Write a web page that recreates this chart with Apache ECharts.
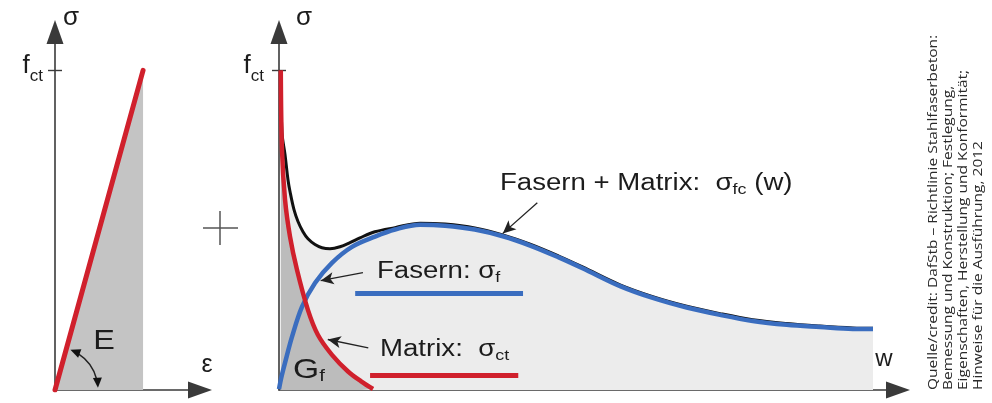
<!DOCTYPE html>
<html>
<head>
<meta charset="utf-8">
<script src="https://cdn.jsdelivr.net/npm/echarts@6/dist/echarts.min.js"></script>
<style>
  html, body { margin: 0; padding: 0; background: #fff; }
  #chart { width: 992px; height: 403px; }
</style>
</head>
<body>
<div id="chart"></div>
<script>
// stress normalised to f_ct (= 1), strain normalised to eps_ct, crack width w in arbitrary units
const elastic = [[0, 0], [0.99, 1.0]];

const matrix = [
  [0.3, 1.0], [0.5, 0.752], [1.01, 0.596], [1.85, 0.48], [3.02, 0.376],
  [4.87, 0.25], [6.55, 0.172], [8.9, 0.11], [11.6, 0.058], [13.8, 0.027], [15.8, 0.003]
];

const fibres = [
  [0, 0.003], [0.4, 0.04], [1.01, 0.085], [2.18, 0.166], [3.86, 0.26], [6.05, 0.335],
  [8.9, 0.398], [12.26, 0.448], [16.13, 0.48], [19.49, 0.502], [23.7, 0.517],
  [27.9, 0.514], [32.9, 0.502], [37.6, 0.481], [42.2, 0.452], [47, 0.415],
  [51, 0.381], [57.3, 0.325], [62.8, 0.288], [68.5, 0.258], [74.1, 0.235],
  [79.6, 0.216], [85.3, 0.204], [90.9, 0.197], [96.4, 0.191], [99.8, 0.191]
];

const total = [
  [0.3, 1.0], [0.5, 0.806], [1.01, 0.737], [1.51, 0.658], [1.85, 0.621],
  [2.52, 0.564], [3.19, 0.527], [4.03, 0.495], [4.87, 0.473], [6.05, 0.455],
  [7.22, 0.445], [8.57, 0.442], [10.25, 0.448], [11.93, 0.461], [13.6, 0.476],
  [16.1, 0.495], [19.49, 0.508], [23.7, 0.522], [27.9, 0.519], [32.9, 0.507],
  [37.6, 0.485], [42.2, 0.456], [47, 0.419], [51, 0.385], [57.3, 0.329],
  [62.8, 0.292], [68.5, 0.262], [74.1, 0.239], [79.6, 0.22], [85.3, 0.208],
  [90.9, 0.2], [96.4, 0.194], [99.8, 0.193]
];

const fctTick = [1];

const creditLines = [
  'Quelle/credit: DafStb \u2013 Richtlinie Stahlfaserbeton:',
  'Bemessung und Konstruktion; Festlegung,',
  'Eigenschaften, Herstellung und Konformit\u00e4t;',
  'Hinweise f\u00fcr die Ausf\u00fchrung, 2012'
];

const FONT = '"Liberation Sans", Arial, sans-serif';
const INK = '#1c1c1c';
const AXIS = '#3a3a3a';
const RED = '#d0202c';
const BLUE = '#3a6dbf';

const chart = echarts.init(document.getElementById('chart'), null, { renderer: 'canvas' });

function valueAxis(grid, max, extra) {
  return Object.assign({
    type: 'value', gridIndex: grid, min: 0, max: max,
    splitLine: { show: false },
    axisTick: { show: false },
    axisLabel: { show: false },
    axisLine: {
      show: true, onZero: false,
      symbol: ['none', 'triangle'], symbolSize: [17, 24],
      lineStyle: { color: AXIS, width: 1.6 }
    }
  }, extra);
}

function fctAxis(grid, margin) {
  return valueAxis(grid, 1.12, {
    name: 'σ', nameLocation: 'end', nameGap: 14,
    nameTextStyle: {
      fontFamily: FONT, fontSize: 26, color: INK, align: 'left', verticalAlign: 'middle',
      padding: [0, 0, 0, grid === 0 ? 8 : 17]
    },
    axisTick: { show: true, customValues: fctTick, length: 7, lineStyle: { color: AXIS, width: 1.4 } },
    axisLabel: {
      show: true, customValues: fctTick, margin: margin,
      formatter: () => '{a|f}{b|ct}',
      padding: [0, 0, 10, 0],
      rich: {
        a: { fontFamily: FONT, fontSize: 26, color: INK },
        b: { fontFamily: FONT, fontSize: 17, color: INK, padding: [22, 0, 0, 0] }
      }
    }
  });
}

function innerTickAxis(grid) {
  return valueAxis(grid, 1.12, {
    position: 'left',
    axisLine: { show: false },
    axisTick: { show: true, inside: true, customValues: fctTick, length: 7, lineStyle: { color: AXIS, width: 1.4 } }
  });
}

const arrowStyle = { color: '#222', width: 1.3, type: 'solid' };

function angleArc(params, api) {
  const o = api.coord([api.value(0), api.value(1)]);
  const r = 43;
  const a1 = -69 * Math.PI / 180;
  const a2 = -3 * Math.PI / 180;
  const L = 10, W = 4.5;
  function head(a, sign) {
    const tip = [o[0] + r * Math.cos(a), o[1] + r * Math.sin(a)];
    const d = [-Math.sin(a) * sign, Math.cos(a) * sign];
    const b = [tip[0] - L * d[0], tip[1] - L * d[1]];
    const n = [-d[1], d[0]];
    return {
      type: 'polygon',
      shape: { points: [tip, [b[0] + W * n[0], b[1] + W * n[1]], [b[0] - W * n[0], b[1] - W * n[1]]] },
      style: { fill: '#111' }
    };
  }
  return {
    type: 'group',
    children: [
      {
        type: 'arc',
        shape: { cx: o[0], cy: o[1], r: r, startAngle: a1 + 0.2, endAngle: a2 - 0.2, clockwise: true },
        style: { stroke: '#222', lineWidth: 1.5, fill: null }
      },
      head(a1, -1),
      head(a2, 1)
    ]
  };
}

function txt(x, y, text, rich, fontSize, align) {
  return {
    type: 'text', x: x, y: y, scaleX: 1.2, silent: true, z: 100,
    style: {
      text: text, rich: rich || undefined,
      fontFamily: FONT, fontSize: fontSize || 23, fill: INK,
      align: align || 'left', verticalAlign: 'middle',
      textAlign: align || 'left', textVerticalAlign: 'middle'
    }
  };
}

const subRich = {
  m: { fontFamily: FONT, fontSize: 23, fill: INK },
  s: { fontFamily: FONT, fontSize: 15, fill: INK, padding: [11, 0, 0, 0] }
};

const option = {
  animation: false,
  backgroundColor: '#fff',
  grid: [
    { left: 55, top: 32, width: 145, height: 358, outerBoundsMode: 'none' },
    { left: 279, top: 32, width: 619, height: 358, outerBoundsMode: 'none' }
  ],
  xAxis: [
    valueAxis(0, 1.63, {
      name: 'ε', nameLocation: 'end', nameGap: 7,
      nameTextStyle: { fontFamily: FONT, fontSize: 25, color: INK, align: 'center', verticalAlign: 'bottom', padding: [0, 0, 12, 0] }
    }),
    valueAxis(1, 104, {
      name: 'w', nameLocation: 'end', nameGap: -14,
      nameTextStyle: { fontFamily: FONT, fontSize: 24, color: INK, align: 'center', verticalAlign: 'bottom', padding: [0, 0, 19, 0] }
    })
  ],
  yAxis: [
    fctAxis(0, 12),
    innerTickAxis(0),
    fctAxis(1, 15),
    innerTickAxis(1)
  ],
  series: [
    {
      name: 'Elastisch', type: 'line', xAxisIndex: 0, yAxisIndex: 0,
      data: elastic, symbol: 'none', silent: true,
      lineStyle: { width: 0 }, areaStyle: { color: '#c4c4c4', opacity: 1 }
    },
    {
      name: 'E', type: 'line', xAxisIndex: 0, yAxisIndex: 0,
      data: elastic, symbol: 'none', silent: true,
      lineStyle: { color: RED, width: 5, cap: 'round' }
    },
    {
      name: 'Winkel', type: 'custom', xAxisIndex: 0, yAxisIndex: 0, z: 10,
      coordinateSystem: 'cartesian2d', clip: false,
      data: [[0, 0]], silent: true, renderItem: angleArc
    },
    {
      name: 'Fasern + Matrix', type: 'line', xAxisIndex: 1, yAxisIndex: 2,
      data: total, symbol: 'none', silent: true, smooth: 0.35,
      lineStyle: { color: '#111', width: 3 }, areaStyle: { color: '#ececec', opacity: 1 },
      markLine: {
        silent: true, symbol: ['none', 'arrow'], symbolSize: [9, 13],
        label: { show: false }, lineStyle: arrowStyle,
        data: [
          [{ coord: [43.4, 0.586] }, { coord: [37.6, 0.49] }],
          [{ coord: [14.1, 0.367] }, { coord: [7.0, 0.342] }],
          [{ coord: [15.0, 0.132] }, { coord: [8.2, 0.158] }]
        ]
      }
    },
    {
      name: 'Gf', type: 'line', xAxisIndex: 1, yAxisIndex: 2,
      data: matrix, symbol: 'none', silent: true, smooth: 0.35,
      lineStyle: { width: 0 }, areaStyle: { color: '#bcbcbc', opacity: 1 }
    },
    {
      name: 'Fasern', type: 'line', xAxisIndex: 1, yAxisIndex: 2,
      data: fibres, symbol: 'none', silent: true, smooth: 0.35,
      lineStyle: { color: BLUE, width: 4.5 },
      markLine: {
        silent: true, symbol: 'none', label: { show: false },
        lineStyle: { color: BLUE, width: 5, type: 'solid' },
        data: [[{ coord: [12.8, 0.304] }, { coord: [41.0, 0.304] }]]
      }
    },
    {
      name: 'Matrix', type: 'line', xAxisIndex: 1, yAxisIndex: 2,
      data: matrix, symbol: 'none', silent: true, smooth: 0.35,
      lineStyle: { color: RED, width: 4.5 },
      markLine: {
        silent: true, symbol: 'none', label: { show: false },
        lineStyle: { color: RED, width: 5, type: 'solid' },
        data: [[{ coord: [15.3, 0.047] }, { coord: [40.2, 0.047] }]]
      }
    }
  ],
  graphic: [
    // plus sign between the two diagrams
    { type: 'line', silent: true, z: 100, shape: { x1: 203, y1: 228, x2: 238, y2: 228 }, style: { stroke: '#555', lineWidth: 1.5 } },
    { type: 'line', silent: true, z: 100, shape: { x1: 220, y1: 211, x2: 220, y2: 245 }, style: { stroke: '#555', lineWidth: 1.5 } },
    txt(104, 342, 'E', null, 27, 'center'),
    txt(293, 370, '{g|G}{s|f}', {
      g: { fontFamily: FONT, fontSize: 28, fill: INK },
      s: { fontFamily: FONT, fontSize: 17, fill: INK, padding: [12, 0, 0, 0] }
    }),
    txt(500, 184, '{m|Fasern + Matrix:  σ}{s|fc}{m| (w)}', subRich),
    txt(377, 272, '{m|Fasern: σ}{s|f}', subRich),
    txt(380, 350, '{m|Matrix:  σ}{s|ct}', subRich),
    {
      // source note, rotated to read bottom-up
      type: 'text', x: 926, y: 390, rotation: Math.PI / 2, scaleY: 0.84, silent: true, z: 100,
      style: {
        text: creditLines.join('\n'),
        fontFamily: '"Open Sans", sans-serif', fontSize: 15.5, lineHeight: 17.8, fill: '#2a2a2a',
        align: 'left', verticalAlign: 'top', textAlign: 'left', textVerticalAlign: 'top'
      }
    }
  ]
};

chart.setOption(option);
</script>
</body>
</html>
